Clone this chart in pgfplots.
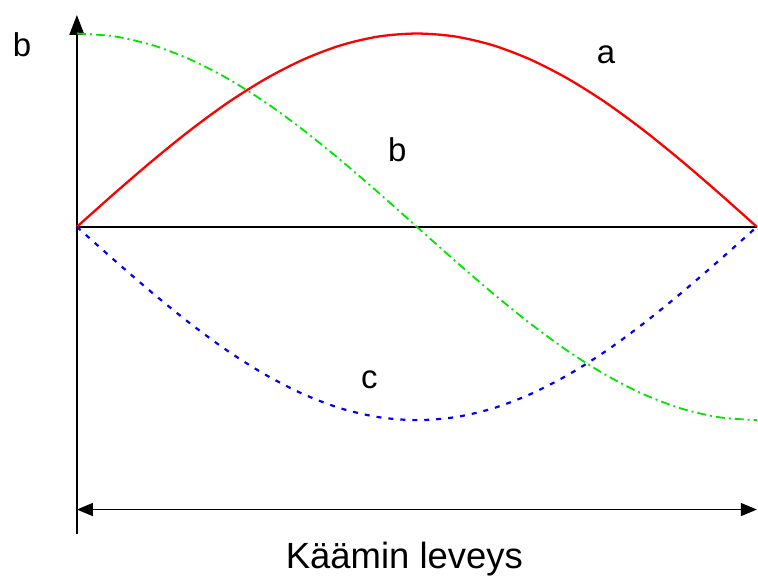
\documentclass[border=0pt]{standalone}
\usepackage{pgfplots}
\pgfplotsset{compat=1.18}
\usepackage{fontspec}
\setmainfont{Liberation Sans}
\usetikzlibrary{arrows.meta}

% field distributions across the coil width (angle in degrees)
\pgfplotstableread{
x    a      b       c
0    0.000  1.000   0.000
10   0.174  0.985  -0.174
20   0.342  0.940  -0.342
30   0.500  0.866  -0.500
40   0.643  0.766  -0.643
50   0.766  0.643  -0.766
60   0.866  0.500  -0.866
70   0.940  0.342  -0.940
80   0.985  0.174  -0.985
90   1.000  0.000  -1.000
100  0.985 -0.174  -0.985
110  0.940 -0.342  -0.940
120  0.866 -0.500  -0.866
130  0.766 -0.643  -0.766
140  0.643 -0.766  -0.643
150  0.500 -0.866  -0.500
160  0.342 -0.940  -0.342
170  0.174 -0.985  -0.174
180  0.000 -1.000   0.000
}\curves

\begin{document}
\begin{tikzpicture}[x=1pt,y=1pt]
\begin{axis}[
  scale only axis, width=681pt, height=520pt,
  xmin=0, xmax=180, ymin=-1.59, ymax=1.096,
  axis lines=none, clip=false,
]
% coordinate axes
\draw[black, line width=1.4pt] (axis cs:0,0) -- (axis cs:180,0);
\draw[black, line width=1.4pt, -{Triangle[length=20pt,width=15pt]}] (axis cs:0,-1.59) -- (axis cs:0,1.096);
% width arrow
\draw[black, line width=1.4pt, {Triangle[length=16pt,width=13pt]}-{Triangle[length=16pt,width=13pt]}] (axis cs:0,-1.4625) -- (axis cs:180,-1.4625);

\addplot[red, line width=2.3pt, smooth] table[x=x,y=a] {\curves};
\addplot[green!90!black, line width=1.8pt, smooth, dash pattern=on 9pt off 4pt on 2pt off 4pt] table[x=x,y=b] {\curves};
\addplot[blue, line width=2.2pt, smooth, dash pattern=on 5pt off 7pt] table[x=x,y=c] {\curves};

\node[font=\fontsize{33}{40}\selectfont] at (axis cs:-14.5,0.94) {b};
\node[font=\fontsize{33}{40}\selectfont] at (axis cs:140.1,0.89) {a};
\node[font=\fontsize{33}{40}\selectfont] at (axis cs:84.8,0.40) {b};
\node[font=\fontsize{33}{40}\selectfont] at (axis cs:77.4,-0.79) {c};
\node[font=\fontsize{36.5}{44}\selectfont] at (axis cs:86.7,-1.72) {Käämin leveys};
\end{axis}
\useasboundingbox (-77,-46) rectangle (681,535);
\end{tikzpicture}
\end{document}
